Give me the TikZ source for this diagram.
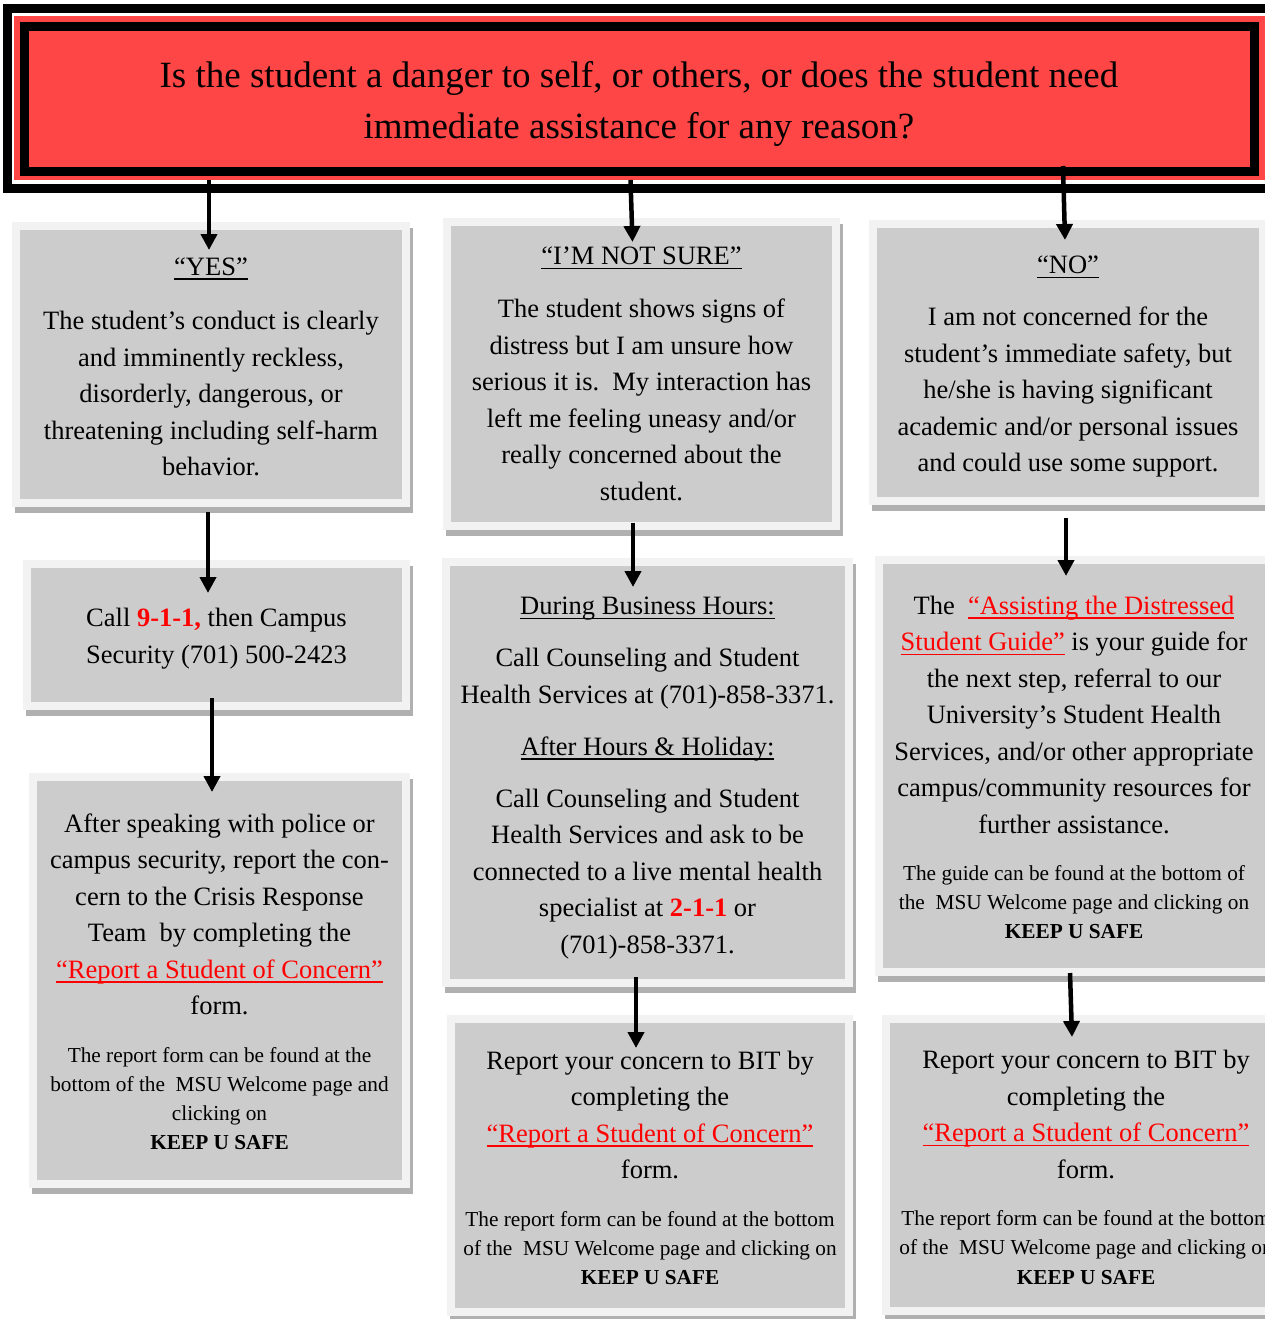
\documentclass[tikz,border=0pt]{standalone}
\usepackage{fontspec}
\setmainfont{Liberation Serif}
\usetikzlibrary{arrows.meta,calc}
\definecolor{titlered}{RGB}{255,70,70}
\definecolor{boxgray}{RGB}{204,204,204}
\definecolor{framegray}{RGB}{242,242,242}
\definecolor{shadowgray}{RGB}{176,176,176}
\definecolor{linkred}{RGB}{255,0,0}
\newcommand\txttitle{\fontsize{37}{51}\selectfont}
\newcommand\txtbody{\fontsize{26.5}{36.5}\selectfont}
\newcommand\txtsmall{\fontsize{21.3}{29.2}\selectfont}
\newcommand\uln[1]{\leavevmode{\setbox0\hbox{#1}\rlap{\vrule height -3pt depth 4.5pt width \wd0}\box0}}
\newcommand\lnk[1]{\leavevmode{\color{linkred}\uln{#1}}}
\newcommand\topstrut[1]{\rule{0pt}{#1}}
\tikzset{
  bx/.style={draw=framegray, fill=boxgray, line width=8pt, inner sep=0pt,
    align=flush center, font=\txtbody,
    preaction={draw=shadowgray, fill=shadowgray, transform canvas={xshift=3pt,yshift=-6pt}}},
  qbox/.style={draw=black, fill=titlered, line width=9pt, inner sep=0pt,
    align=flush center, font=\txttitle},
  arr/.style={line width=4.5pt, -{Triangle[length=16pt,width=16pt]}}
}
\begin{document}
\begin{tikzpicture}[x=1pt,y=-1pt]
\useasboundingbox (0,0) rectangle (1264,1319);
% title frame
\draw[line width=9pt] (7,8.5) rectangle (1290,188.5);
\fill[titlered] (14,16) rectangle (1290,180);
\node[qbox, text width=1230pt, minimum height=145.3pt] (q) at (639,98.85)
  {\topstrut{35.5pt}Is the student a danger to self, or others, or does the student need\par
   immediate assistance for any reason?\par};

% left column
\node[bx, text width=390pt, minimum height=277pt] (b1) at (211,364.5)
  {\topstrut{22.2pt}\uln{“YES”}\par\vspace{17.7pt}
   The student’s conduct is clearly\par
   and imminently reckless,\par
   disorderly, dangerous, or\par
   threatening including self-harm\par
   behavior.\par};
\node[bx, text width=379pt, minimum height=142pt] (b2) at (216.5,635)
  {\topstrut{26.2pt}Call {\color{linkred}\bfseries 9-1-1,} then Campus\par
   Security (701) 500-2423\par};
\node[bx, text width=373pt, minimum height=407pt] (b3) at (219.5,980.5)
  {\topstrut{21.2pt}After speaking with police or\par
   campus security, report the con-\par
   cern to the Crisis Response\par
   Team\ \ by completing the\par
   \lnk{“Report a Student of Concern”}\par
   form.\par\vspace{18pt}\txtsmall
   The report form can be found at the\par
   bottom of the\ \ MSU Welcome page and\par
   clicking on\par
   \textbf{KEEP U SAFE}\par};

% middle column
\node[bx, text width=389pt, minimum height=304pt] (b4) at (641.5,374)
  {\uln{“I’M NOT SURE”}\par\vspace{16.5pt}
   The student shows signs of\par
   distress but I am unsure how\par
   serious it is.\ \ My interaction has\par
   left me feeling uneasy and/or\par
   really concerned about the\par
   student.\par};
\node[bx, text width=403pt, minimum height=421pt] (b5) at (647.5,772.5)
  {\topstrut{28.2pt}\uln{During Business Hours:}\par\vspace{15.5pt}
   Call Counseling and Student\par
   Health Services at (701)-858-3371.\par\vspace{15.5pt}
   \uln{After Hours \& Holiday:}\par\vspace{15.5pt}
   Call Counseling and Student\par
   Health Services and ask to be\par
   connected to a live mental health\par
   specialist at {\color{linkred}\bfseries 2-1-1} or\par
   (701)-858-3371.\par};
\node[bx, text width=398pt, minimum height=293pt] (b6) at (650,1165.5)
  {\topstrut{23.2pt}Report your concern to BIT by\par
   completing the\par
   \lnk{“Report a Student of Concern”}\par
   form.\par\vspace{18pt}\txtsmall
   The report form can be found at the bottom\par
   of the\ \ MSU Welcome page and clicking on\par
   \textbf{KEEP U SAFE}\par};

% right column
\node[bx, text width=390pt, minimum height=277pt] (b7) at (1068,362.5)
  {\topstrut{26.2pt}\uln{“NO”}\par\vspace{15.5pt}
   I am not concerned for the\par
   student’s immediate safety, but\par
   he/she is having significant\par
   academic and/or personal issues\par
   and could use some support.\par};
\node[bx, text width=390pt, minimum height=412pt] (b8) at (1074,766)
  {\topstrut{21.2pt}The\ \ \lnk{“Assisting the Distressed}\par
   \lnk{Student Guide”} is your guide for\par
   the next step, referral to our\par
   University’s Student Health\par
   Services, and/or other appropriate\par
   campus/community resources for\par
   further assistance.\par\vspace{18pt}\txtsmall
   The guide can be found at the bottom of\par
   the\ \ MSU Welcome page and clicking on\par
   \textbf{KEEP U SAFE}\par};
\node[bx, text width=400pt, minimum height=292pt] (b9) at (1086,1165)
  {\topstrut{23.2pt}Report your concern to BIT by\par
   completing the\par
   \lnk{“Report a Student of Concern”}\par
   form.\par\vspace{18pt}\txtsmall
   The report form can be found at the bottom\par
   of the\ \ MSU Welcome page and clicking on\par
   \textbf{KEEP U SAFE}\par};

% connectors
\draw[arr] ($(b1.north)+(-2,-42)$) -- ($(b1.north)+(-2,28)$);
\draw[arr] ($(b4.north)+(-11,-38)$) -- ($(b4.north)+(-9,24)$);
\draw[arr] ($(b7.north)+(-5,-54)$) -- ($(b7.north)+(-3,20)$);
\draw[arr] ($(b1.south)+(-3,5)$) -- ($(b2.north)+(-8.5,33)$);
\draw[arr] ($(b2.south)+(-4.5,-12)$) -- ($(b3.north)+(-7.5,19)$);
\draw[arr] ($(b4.south)+(-8.5,-7)$) -- ($(b5.north)+(-14.5,29)$);
\draw[arr] ($(b5.south)+(-11.5,-10)$) -- ($(b6.north)+(-14,33)$);
\draw[arr] ($(b7.south)+(-2,13)$) -- ($(b8.north)+(-8,20)$);
\draw[arr] ($(b8.south)+(-4,-3)$) -- ($(b9.north)+(-14,22)$);
\end{tikzpicture}
\end{document}
